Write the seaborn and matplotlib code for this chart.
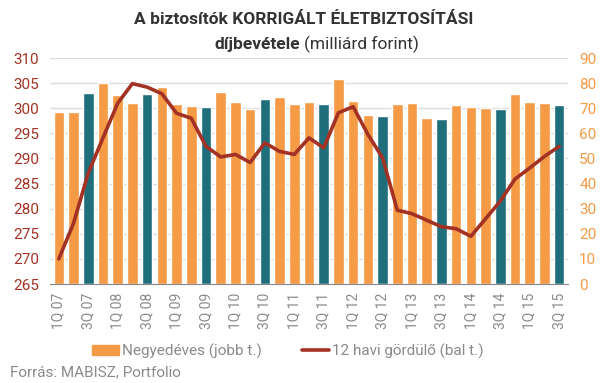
import numpy as np
import pandas as pd
import matplotlib
matplotlib.use("Agg")
import matplotlib.pyplot as plt
import seaborn as sns
from matplotlib.patches import Patch
from matplotlib.lines import Line2D

quarters = [f"{q}Q {y:02d}" for y in range(7, 16) for q in range(1, 5)][:35]
negyedeves = [68.3, 68.3, 76.2, 80.2, 75.4, 72.2, 75.8, 78.6, 71.8, 71.0,
              70.3, 76.6, 72.6, 69.5, 73.8, 74.6, 71.8, 72.6, 71.8, 81.7,
              73.0, 67.5, 67.1, 71.8, 72.2, 66.3, 65.9, 71.4, 70.6, 69.9,
              69.5, 75.8, 72.6, 72.2, 71.4]
gordulo = [270.0, 277.1, 287.1, 294.1, 301.0, 304.9, 304.2, 302.9, 299.0, 298.0,
           292.4, 290.3, 290.8, 289.2, 293.1, 291.4, 290.8, 294.1, 292.1, 299.1,
           300.3, 294.8, 290.1, 279.7, 279.0, 277.7, 276.4, 276.0, 274.5, 278.0,
           281.5, 285.9, 288.1, 290.4, 292.4]

orange = "#f59a45"
teal = "#1e6e7c"
red = "#a33224"
grey = "#8a8a8a"

df = pd.DataFrame({"q": quarters, "v": negyedeves, "l": gordulo})
df["pos"] = np.arange(len(df))
df["kind"] = ["q3" if q.startswith("3Q") else "other" for q in quarters]

sns.set_style("white")
plt.rcParams["font.family"] = ["Roboto", "DejaVu Sans"]

fig = plt.figure(figsize=(6.07, 3.83), dpi=100)
ax = fig.add_axes([50 / 607, 1 - 284 / 383, 518 / 607, 226 / 383])

# bars: quarterly values, right axis
sns.barplot(data=df, x="pos", y="v", hue="kind", palette={"q3": teal, "other": orange},
            width=0.72, dodge=False, legend=False, ax=ax, saturation=1)
ax.set_ylim(0, 90)
ax.set_yticks(range(0, 91, 10))
ax.set_xlim(-0.6, len(df) - 0.4)
ax.set_xticks(df["pos"][::2])
ax.set_xticklabels(df["q"][::2], rotation=90, color=grey, fontsize=10)
ax.tick_params(axis="x", length=0, pad=6)
ax.grid(axis="y", color="#dddddd", linewidth=1)
ax.set_axisbelow(True)
ax.set_xlabel("")
ax.set_ylabel("")
for s in ["top", "left", "right"]:
    ax.spines[s].set_visible(False)
ax.spines["bottom"].set_color("#888888")

# line: 12-month rolling, left axis
ax2 = ax.twinx()
sns.lineplot(data=df, x="pos", y="l", color=red, linewidth=2.6, ax=ax2)
ax2.set_ylim(265, 310)
ax2.set_yticks(range(265, 311, 5))
ax2.set_xlabel("")
ax2.set_ylabel("")
for s in ["top", "left", "right", "bottom"]:
    ax2.spines[s].set_visible(False)

# swap tick sides after twinx
ax.yaxis.tick_right()
ax2.yaxis.tick_left()
ax.tick_params(axis="y", colors=orange, labelsize=11, length=0, pad=8,
               labelleft=False, labelright=True)
ax2.tick_params(axis="y", colors=red, labelsize=11, length=0, pad=8,
                labelleft=True, labelright=False)

fig.text(0.5, 1 - 20 / 383, "A biztosítók KORRIGÁLT ÉLETBIZTOSÍTÁSI", ha="center", va="center",
         fontsize=12.5, fontweight="bold", color="#333333")
fig.text(0.5 - 0.005, 1 - 44 / 383, "díjbevétele", ha="right", va="center",
         fontsize=12.5, fontweight="bold", color="#333333")
fig.text(0.5, 1 - 44 / 383, "(milliárd forint)", ha="left", va="center",
         fontsize=12.5, color="#333333")

handles = [Patch(color=orange), Line2D([0], [0], color=red, linewidth=2.6)]
fig.legend(handles[:1], ["Negyedéves (jobb t.)"], loc="center left",
           bbox_to_anchor=(78 / 607, 1 - 351 / 383), frameon=False, fontsize=11,
           handlelength=1.8, handletextpad=0.2, labelcolor=grey)
fig.legend(handles[1:], ["12 havi gördülő (bal t.)"], loc="center left",
           bbox_to_anchor=(288 / 607, 1 - 351 / 383), frameon=False, fontsize=11,
           handlelength=1.8, handletextpad=0.2, labelcolor=grey)
fig.text(10 / 607, 1 - 372 / 383, "Forrás: MABISZ, Portfolio", ha="left", va="center",
         fontsize=11, color=grey)

fig.savefig("out.png", dpi=100)
